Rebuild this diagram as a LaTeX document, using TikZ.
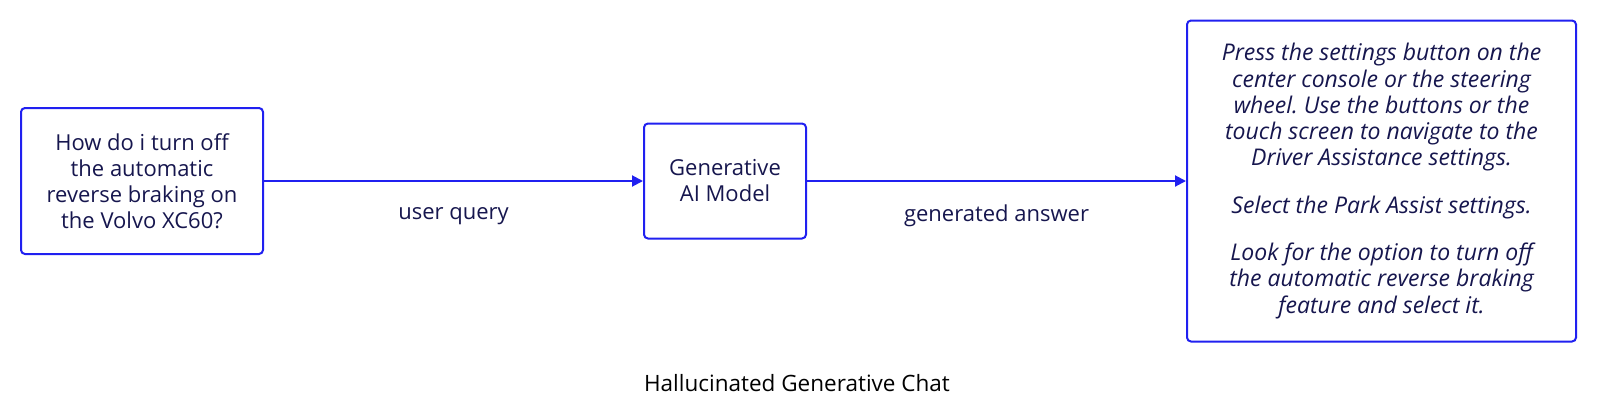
\documentclass[tikz,border=0pt]{standalone}
\usepackage{fontspec}
\setmainfont{Open Sans}
\usepackage{tikz}
\usetikzlibrary{arrows.meta,positioning}
\definecolor{boxblue}{RGB}{32,32,240}
\definecolor{inknavy}{RGB}{22,22,78}
\frenchspacing

\begin{document}
\begin{tikzpicture}[
  x=1pt,y=1pt,
  node distance=379pt,
  box/.style={draw=boxblue,line width=2pt,rounded corners=4pt,align=center,
              text=inknavy,font=\fontsize{22}{26}\selectfont},
  arr/.style={-{Triangle[length=11pt,width=11pt]},line width=2pt,color=boxblue},
  edgelabel/.style={text=inknavy,font=\fontsize{22}{26}\selectfont}
]
\useasboundingbox (0,0) rectangle (1600,-410);

\node[box,minimum width=242pt,minimum height=146pt] (query) at (142,-181)
  {How do i turn off\\the automatic\\reverse braking on\\the Volvo XC60?};
\node[box,minimum width=162pt,minimum height=115pt,right=of query] (model)
  {Generative\\AI Model};
\node[box,minimum width=389pt,minimum height=321pt,right=of model,
      font=\fontsize{23}{26.3}\selectfont\itshape] (answer)
  {Press the settings button on the\\center console or the steering\\wheel. Use the buttons or the\\touch screen to navigate to the\\Driver Assistance settings.\\[21pt]
   Select the Park Assist settings.\\[21pt]
   Look for the option to turn off\\the automatic reverse braking\\feature and select it.};

\draw[arr] (query) -- node[edgelabel,midway,yshift=-35pt] (ql) {user query} (model);
\draw[arr] (model) -- node[edgelabel,midway,yshift=-35pt] (al) {generated answer} (answer);

\node[font=\fontsize{22.5}{26}\selectfont] (caption) at (797,-383) {Hallucinated Generative Chat};
\end{tikzpicture}
\end{document}
